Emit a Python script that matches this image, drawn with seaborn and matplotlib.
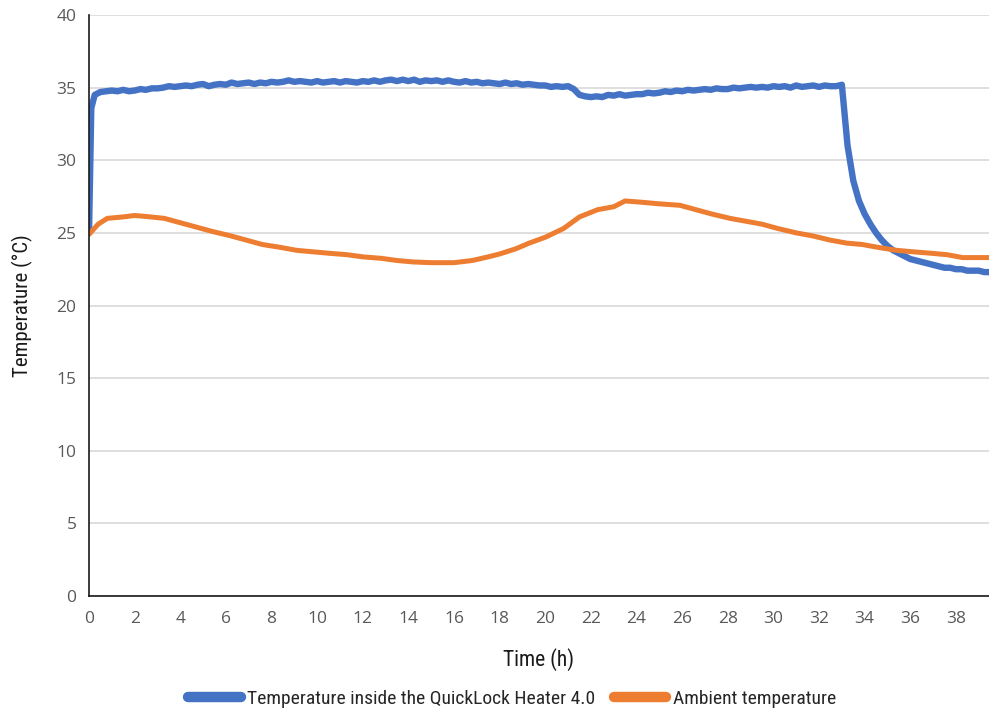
"""
plot.py - QuickLock Heater 4.0 vs ambient temperature
Saída: out.png
"""
import numpy as np
import pandas as pd
import matplotlib
matplotlib.use("Agg")
import matplotlib.pyplot as plt
from matplotlib import font_manager
import seaborn as sns

# ---- dados ------------------------------------------------------------
# série do aquecedor: 0 h, 0.1 h e depois uma leitura a cada 0.25 h até 39.5 h
horas_aquecedor = np.concatenate([[0, 0.1], np.arange(0.25, 39.75, 0.25)])
temp_aquecedor = [
    25.0, 33.6,
    34.5, 34.7, 34.75,
    34.8, 34.75, 34.85, 34.75,   34.8, 34.9, 34.85, 34.95,
    34.95, 35.0, 35.1, 35.05,    35.1, 35.15, 35.1, 35.2,
    35.25, 35.1, 35.2, 35.25,    35.2, 35.35, 35.25, 35.3,
    35.35, 35.25, 35.35, 35.3,   35.4, 35.35, 35.4, 35.5,
    35.4, 35.45, 35.4, 35.35,    35.45, 35.35, 35.4, 35.45,
    35.35, 35.45, 35.4, 35.35,   35.45, 35.4, 35.5, 35.4,
    35.5, 35.55, 35.45, 35.55,   35.45, 35.55, 35.4, 35.5,
    35.45, 35.5, 35.4, 35.5,     35.4, 35.35, 35.45, 35.35,
    35.4, 35.3, 35.35, 35.3,     35.25, 35.35, 35.25, 35.3,
    35.2, 35.25, 35.2, 35.15,    35.15, 35.05, 35.1, 35.05,
    35.1, 34.9, 34.5, 34.4,      34.35, 34.4, 34.35, 34.5,
    34.45, 34.55, 34.45, 34.5,   34.55, 34.55, 34.65, 34.6,
    34.65, 34.75, 34.7, 34.8,    34.75, 34.85, 34.8, 34.85,
    34.9, 34.85, 34.95, 34.9,    34.9, 35.0, 34.95, 35.0,
    35.05, 35.0, 35.05, 35.0,    35.1, 35.05, 35.1, 35.0,
    35.15, 35.05, 35.1, 35.15,   35.05, 35.15, 35.1, 35.1,
    35.2, 31.0, 28.6, 27.2,      26.3, 25.6, 25.0, 24.5,
    24.1, 23.8, 23.6, 23.4,      23.2, 23.1, 23.0, 22.9,
    22.8, 22.7, 22.6, 22.6,      22.5, 22.5, 22.4, 22.4,
    22.4, 22.3, 22.3,
]

horas_ambiente = [0, 0.4, 0.8, 1.5, 2.0, 2.7, 3.3, 4.0, 4.7, 5.4, 6.2, 6.9,
                  7.6, 8.4, 9.1, 9.8, 10.5, 11.3, 12.0, 12.8, 13.5, 14.2,
                  15.0, 16.0, 16.8, 17.5, 18.0, 18.7, 19.3, 20.0, 20.8, 21.5,
                  22.3, 23.0, 23.5, 24.3, 25.0, 25.9, 26.6, 27.3, 28.1, 28.8,
                  29.5, 30.2, 31.0, 31.7, 32.5, 33.2, 33.9, 34.6, 35.4, 36.1,
                  36.9, 37.6, 38.3, 39.0, 39.5]
temp_ambiente = [24.9, 25.6, 26.0, 26.1, 26.2, 26.1, 26.0, 25.7, 25.4, 25.1,
                 24.8, 24.5, 24.2, 24.0, 23.8, 23.7, 23.6, 23.5, 23.35, 23.25,
                 23.1, 23.0, 22.95, 22.95, 23.1, 23.35, 23.55, 23.9, 24.3, 24.7,
                 25.3, 26.1, 26.6, 26.8, 27.2, 27.1, 27.0, 26.9, 26.6, 26.3,
                 26.0, 25.8, 25.6, 25.3, 25.0, 24.8, 24.5, 24.3, 24.2, 24.0,
                 23.8, 23.7, 23.6, 23.5, 23.3, 23.3, 23.3]

SERIES = ["Temperature inside the QuickLock Heater 4.0", "Ambient temperature"]
CORES = {SERIES[0]: "#4472C4", SERIES[1]: "#ED7D31"}

# fonte estreita, se houver alguma instalada
instaladas = {f.name for f in font_manager.fontManager.ttflist}
estreitas = [n for n in ["Roboto Condensed", "Liberation Sans Narrow",
                         "Open Sans Condensed", "DejaVu Sans Condensed"]
             if n in instaladas]
FONTE_NARROW = estreitas[:1] + ["DejaVu Sans"]
TAM_NARROW = 14 if estreitas else 12.2

df = pd.concat([
    pd.DataFrame({"hora": horas_aquecedor, "temp": temp_aquecedor, "serie": SERIES[0]}),
    pd.DataFrame({"hora": horas_ambiente, "temp": temp_ambiente, "serie": SERIES[1]}),
], ignore_index=True)

sns.set_theme(style="white")
plt.rcParams["font.family"] = ["Open Sans", "DejaVu Sans"]

fig = plt.figure(figsize=(9.89, 7.15), dpi=100)
ax = fig.add_axes([0.090, 0.1664, 0.910, 0.8126])

sns.lineplot(data=df, x="hora", y="temp", hue="serie", hue_order=SERIES,
             palette=CORES, linewidth=3.6, ax=ax, legend=False,
             estimator=None, sort=False)
ax.lines[0].set_linewidth(4.6)   # a série do aquecedor é mais grossa (ruído)

ax.set_xlim(0, 39.45)
ax.set_ylim(0, 40)
ax.set_xticks(range(0, 39, 2))
ax.set_yticks(range(0, 41, 5))
ax.yaxis.grid(True, color="#d9d9d9", linewidth=1.2)
ax.set_axisbelow(True)
for lado in ["top", "right"]:
    ax.spines[lado].set_visible(False)
for lado in ["left", "bottom"]:
    ax.spines[lado].set_color("#1a1a1a")
    ax.spines[lado].set_linewidth(1.2)
ax.tick_params(axis="both", direction="out", length=5, width=1.1,
               color="#1a1a1a", labelsize=12.5, labelcolor="#595959", pad=4)
ax.tick_params(axis="x", pad=6)

ax.set_xlabel("Time (h)", family=FONTE_NARROW, fontsize=TAM_NARROW + 1.5,
              color="#1a1a1a", labelpad=15)
ax.set_ylabel("Temperature (°C)", family=FONTE_NARROW, fontsize=TAM_NARROW + 1,
              color="#1a1a1a", labelpad=17)

alcas = [plt.Line2D([], [], color=CORES[s], linewidth=7.5, solid_capstyle="round")
         for s in SERIES]
fig.legend(alcas, SERIES, loc="center", bbox_to_anchor=(0.518, 0.023), ncol=2,
           frameon=False, handlelength=2.7 * 14 / TAM_NARROW, columnspacing=0.95,
           handletextpad=0.35, prop={"family": FONTE_NARROW, "size": TAM_NARROW})

fig.savefig("out.png", dpi=100)
plt.close(fig)
print("[OK] out.png")
